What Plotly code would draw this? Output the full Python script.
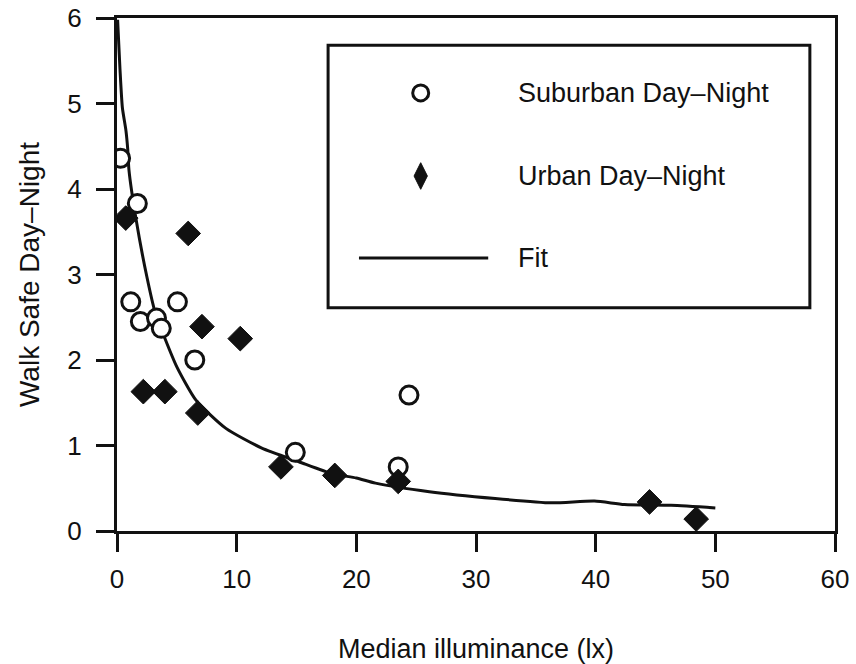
import plotly.graph_objects as go

# ---- data ----
suburban_x = [0.3, 1.7, 1.15, 5.05, 1.95, 3.3, 3.7, 6.5, 14.9, 23.5, 24.4]
suburban_y = [4.36, 3.83, 2.68, 2.68, 2.45, 2.49, 2.37, 2.00, 0.92, 0.75, 1.59]

urban_x = [0.73, 5.95, 7.1, 10.3, 2.2, 4.0, 6.75, 13.7, 18.2, 23.5, 44.5, 48.4]
urban_y = [3.66, 3.48, 2.39, 2.25, 1.63, 1.63, 1.38, 0.75, 0.65, 0.58, 0.34, 0.14]

fit_x = [0.05, 0.25, 0.45, 0.75, 0.9, 1.0, 1.6, 2.5, 3.2, 3.9, 5.0, 6.6, 9.1, 12.1,
         15.2, 18.0, 20.0, 21.6, 26.1, 31.6, 36.3, 39.9, 42.4, 46.3, 50.0]
fit_y = [5.98, 5.4, 4.95, 4.68, 4.46, 4.22, 3.64, 2.97, 2.55, 2.29, 1.92, 1.53, 1.20, 0.97,
         0.81, 0.67, 0.62, 0.56, 0.46, 0.38, 0.33, 0.35, 0.31, 0.30, 0.27]

x_ticks = [0, 10, 20, 30, 40, 50, 60]
y_ticks = [0, 1, 2, 3, 4, 5, 6]

legend_labels = ["Suburban Day\u2013Night", "Urban Day\u2013Night", "Fit"]

x_title = "Median illuminance (lx)"
y_title = "Walk Safe Day\u2013Night"

INK = "#111111"
FONT = "Liberation Sans, Arial, Helvetica, sans-serif"

fig = go.Figure()

fig.add_trace(go.Scatter(
    x=fit_x, y=fit_y, mode="lines", name=legend_labels[2],
    line=dict(color=INK, width=3, shape="spline", smoothing=0.6), showlegend=False))

fig.add_trace(go.Scatter(
    x=suburban_x, y=suburban_y, mode="markers", name=legend_labels[0],
    marker=dict(symbol="circle", size=18, color="white",
                line=dict(color=INK, width=3)), showlegend=False))

fig.add_trace(go.Scatter(
    x=urban_x, y=urban_y, mode="markers", name=legend_labels[1],
    marker=dict(symbol="diamond", size=19, color=INK,
                line=dict(color=INK, width=1)), showlegend=False))

# ---- hand-drawn legend (paper-fraction overlay axes) ----
leg_box = dict(x0=0.294, x1=0.965, y0=0.435, y1=0.947)
leg_sym_x = 0.423
leg_row_y = [0.854, 0.692, 0.532]
leg_line_x = [0.337, 0.517]
leg_text_x = 0.556

fig.add_trace(go.Scatter(
    x=[leg_sym_x], y=[leg_row_y[0]], xaxis="x2", yaxis="y2", mode="markers",
    marker=dict(symbol="circle", size=16, color="white",
                line=dict(color=INK, width=3)),
    showlegend=False, hoverinfo="skip"))
fig.add_trace(go.Scatter(
    x=[leg_sym_x], y=[leg_row_y[1]], xaxis="x2", yaxis="y2", mode="markers",
    marker=dict(symbol="diamond-tall", size=19, color=INK,
                line=dict(color=INK, width=1)),
    showlegend=False, hoverinfo="skip"))
fig.add_trace(go.Scatter(
    x=leg_line_x, y=[leg_row_y[2]] * 2, xaxis="x2", yaxis="y2", mode="lines",
    line=dict(color=INK, width=3), showlegend=False, hoverinfo="skip"))

fig.add_shape(type="rect", xref="paper", yref="paper",
              x0=leg_box["x0"], x1=leg_box["x1"], y0=leg_box["y0"], y1=leg_box["y1"],
              line=dict(color=INK, width=3), fillcolor="rgba(0,0,0,0)")

for lbl, yy in zip(legend_labels, leg_row_y):
    fig.add_annotation(x=leg_text_x, y=yy, xref="paper", yref="paper",
                       text=lbl, showarrow=False, xanchor="left", yanchor="middle",
                       font=dict(size=27, color=INK, family=FONT))

axis_common = dict(
    showgrid=False, zeroline=False, showline=True, linecolor=INK, linewidth=3,
    mirror=True, ticks="outside", ticklen=18, tickwidth=3, tickcolor=INK,
    tickfont=dict(size=26, color=INK, family=FONT), automargin=False,
    ticklabeloverflow="allow",
)

fig.update_layout(
    width=856, height=664,
    margin=dict(l=117, r=21, t=18, b=133),
    paper_bgcolor="white", plot_bgcolor="white",
    font=dict(family=FONT, color=INK),
    xaxis=dict(range=[0, 60], tickvals=x_ticks, ticklabelstandoff=5,
               title=dict(text=x_title, font=dict(size=27, color=INK, family=FONT),
                          standoff=52),
               **axis_common),
    yaxis=dict(range=[0, 6], tickvals=y_ticks, ticklabelstandoff=9,
               title=dict(text=y_title, font=dict(size=28, color=INK, family=FONT),
                          standoff=20),
               **axis_common),
    xaxis2=dict(range=[0, 1], overlaying="x", visible=False, fixedrange=True),
    yaxis2=dict(range=[0, 1], overlaying="y", visible=False, fixedrange=True),
)

# remove the page's default body margin so the figure fills the window exactly
fig.write_html("out.html",
               config={"displayModeBar": False},
               post_script="document.body.style.margin='0';document.body.style.overflow='hidden';")
